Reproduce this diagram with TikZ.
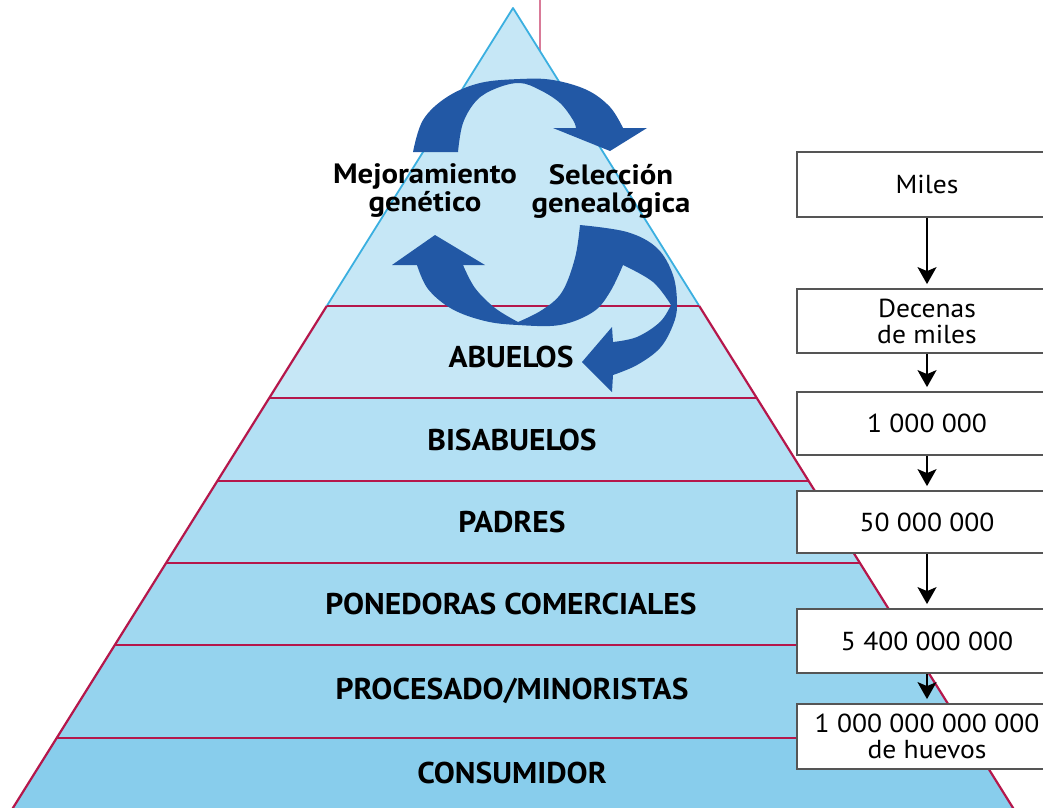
\documentclass[tikz,border=0pt]{standalone}
\usepackage{fontspec}
\setmainfont{PT Sans}
\newfontfamily\lblfont[FakeStretch=1.05]{PT Sans}
\newfontfamily\cycfont[FakeStretch=1.1]{PT Sans}
\newfontfamily\boxfont[FakeStretch=1.06]{PT Sans}
\usetikzlibrary{arrows.meta}
\definecolor{cyanedge}{HTML}{3AAFE0}
\definecolor{crimson}{HTML}{B5174B}
\definecolor{pinkline}{HTML}{D97A98}
\definecolor{bandA}{HTML}{C6E7F6}
\definecolor{bandB}{HTML}{B3E0F4}
\definecolor{bandC}{HTML}{A9DCF2}
\definecolor{bandD}{HTML}{A0D8F0}
\definecolor{bandE}{HTML}{95D3EE}
\definecolor{bandF}{HTML}{88CDEC}
\definecolor{arrowblue}{HTML}{2258A5}
\definecolor{boxgray}{HTML}{555555}
\tikzset{
  lbl/.style={font=\lblfont\fontsize{30}{31}\selectfont\bfseries, text=black, inner sep=0},
  cyc/.style={font=\cycfont\fontsize{28}{28}\selectfont\bfseries, text=black, inner sep=0, align=center},
  numbox/.style={draw=boxgray, line width=1.8pt, fill=white, minimum width=260pt, inner sep=0,
    align=center, font=\boxfont\fontsize{26}{26}\selectfont},
  flow/.style={-{Stealth[length=17pt,width=19pt,inset=4pt]}, line width=2pt, black, shorten >=4pt},
  redline/.style={crimson, line width=2.2pt},
}
\begin{document}
\begin{tikzpicture}[x=1pt,y=-1pt]
\useasboundingbox (0,0) rectangle (1043,807);
\clip (0,0) rectangle (1043,807);
% thin vertical line at the top
\draw[pinkline, line width=1.8pt] (540,0) -- (540,52);
% pyramid bands
\fill[bandA] (513,8) -- (699.25,306) -- (326.75,306) -- cycle;
\fill[bandA] (326.75,306) -- (699.25,306) -- (756.75,398) -- (269.25,398) -- cycle;
\fill[bandB] (269.25,398) -- (756.75,398) -- (808.6,481) -- (217.4,481) -- cycle;
\fill[bandC] (217.4,481) -- (808.6,481) -- (859.9,563) -- (166.1,563) -- cycle;
\fill[bandD] (166.1,563) -- (859.9,563) -- (911.1,645) -- (114.9,645) -- cycle;
\fill[bandE] (114.9,645) -- (911.1,645) -- (969.25,738) -- (56.75,738) -- cycle;
\fill[bandF] (56.75,738) -- (969.25,738) -- (1020.6,820) -- (5.4,820) -- cycle;
% edges
\draw[cyanedge, line width=1.8pt, line join=round] (326.75,306) -- (513,8) -- (699.25,306);
\draw[redline] (326.75,306) -- (5.4,820);
\draw[redline] (699.25,306) -- (1020.6,820);
\foreach \y/\l/\r in {306/326.75/699.25, 398/269.25/756.75, 481/217.4/808.6,
                      563/166.1/859.9, 645/114.9/911.1, 738/56.75/969.25}
  \draw[redline] (\l,\y) -- (\r,\y);
% cycle arrows
\fill[arrowblue] (413,152) -- (458,152)
  -- plot[smooth, tension=0.6] coordinates {(458,152) (463,123) (477,100) (497,88) (520,83) (540,90) (560,103) (573,120) (576,128)}
  -- (553,128) -- (610,151) -- (647,128) -- (623,128)
  -- plot[smooth, tension=0.6] coordinates {(623,128) (610,107) (587,90) (553,80) (520,79) (480,83) (447,97) (423,120) (413,152)}
  -- cycle;
\fill[arrowblue] (435,235) -- (485,265) -- (463,265)
  -- plot[smooth, tension=0.6] coordinates {(463,265) (475,288) (495,308) (518,322)}
  -- plot[smooth, tension=0.6] coordinates {(518,322) (542,310) (562,292) (575,258) (580,225)}
  -- plot[smooth, tension=0.6] coordinates {(580,225) (627,232) (657,248) (673,275) (677,305) (673,325) (660,348) (637,365) (613,375)}
  -- (612,392) -- (582,362) -- (612,327) -- (613,342)
  -- plot[smooth, tension=0.6] coordinates {(613,342) (637,337) (660,322) (671,305)}
  -- plot[smooth, tension=0.6] coordinates {(671,305) (653,282) (623,265)}
  -- plot[smooth, tension=0.6] coordinates {(623,265) (610,292) (593,312) (560,325) (518,325) (485,321) (452,309) (428,289) (417,265)}
  -- (392,265) -- cycle;
% cycle labels
\node[cyc] (mejor) at (425,191) {Mejoramiento\\genético};
\node[cyc] (selec) at (611,191) {Selección\\genealógica};
% band labels
\node[lbl] (abuelos) at (511,357) {ABUELOS};
\node[lbl] (bisab) at (512,440) {BISABUELOS};
\node[lbl] (padres) at (512,522) {PADRES};
\node[lbl] (poned) at (511,604) {PONEDORAS COMERCIALES};
\node[lbl] (proces) at (512,691) {PROCESADO/MINORISTAS};
\node[lbl] (consum) at (512,773) {CONSUMIDOR};
% boxes
\node[numbox, minimum height=65pt] (b1) at (927,184.5) {Miles};
\node[numbox, minimum height=64pt] (b2) at (927,321) {Decenas\\de miles};
\node[numbox, minimum height=63pt] (b3) at (927,423.5) {1 000 000};
\node[numbox, minimum height=62pt] (b4) at (927,522) {50 000 000};
\node[numbox, minimum height=64pt] (b5) at (927,641) {5 400 000 000};
\node[numbox, minimum height=65pt] (b6) at (927,736.5) {1 000 000 000 000\\de huevos};
\draw[flow] (b1.south) -- (b2.north);
\draw[flow] (b2.south) -- (b3.north);
\draw[flow] (b3.south) -- (b4.north);
\draw[flow] (b4.south) -- (b5.north);
\draw[flow] (b5.south) -- (b6.north);
\end{tikzpicture}
\end{document}
